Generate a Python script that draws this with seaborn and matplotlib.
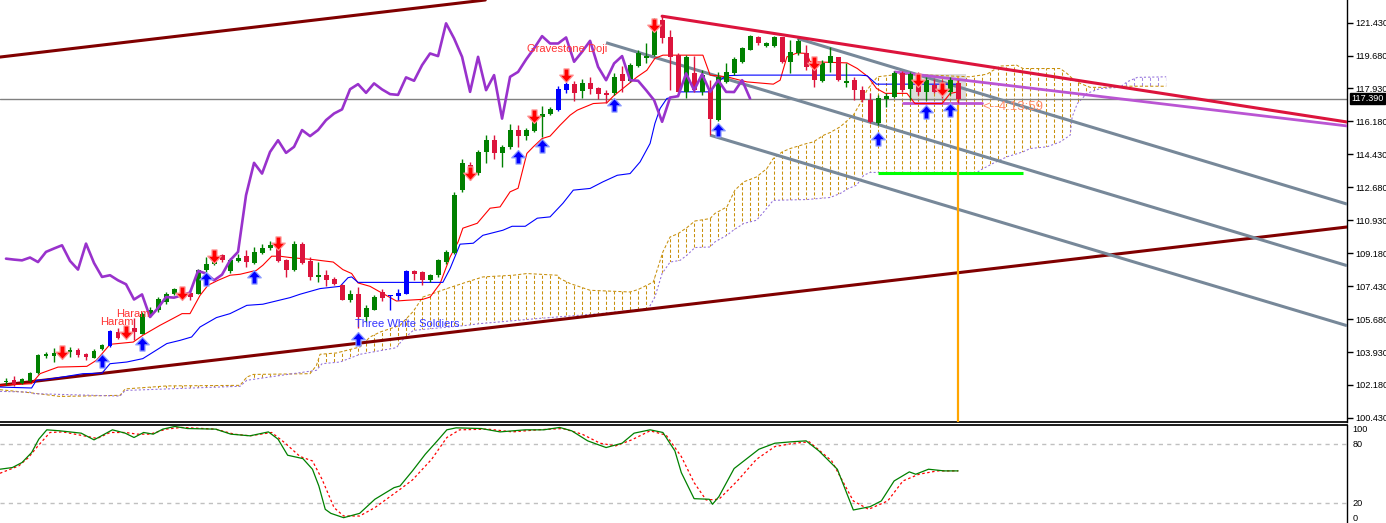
import numpy as np
import matplotlib
matplotlib.use("Agg")
import matplotlib.pyplot as plt
from matplotlib.path import Path
from matplotlib.patches import Rectangle
from matplotlib.ticker import FormatStrFormatter
from matplotlib.transforms import blended_transform_factory
import seaborn as sns

# ---------------- data ----------------
opens = [102.32, 102.43, 102.27, 102.39, 102.81, 103.72, 103.70, 103.93, 103.93, 104.02,
         103.84, 103.63, 104.09, 104.25, 104.99, 104.82, 105.19, 104.91, 105.88, 106.15,
         106.59, 107.03, 107.05, 107.05, 107.03, 108.27, 108.63, 109.11, 108.22, 108.77,
         109.01, 108.66, 109.19, 109.43, 109.51, 108.80, 108.31, 109.66, 108.77, 107.90,
         108.01, 107.81, 107.48, 106.72, 106.99, 105.79, 106.18, 107.12, 106.92, 106.91,
         107.03, 108.24, 108.17, 107.74, 108.01, 108.71, 109.19, 112.53, 113.85, 113.44,
         114.56, 115.18, 114.48, 114.80, 115.72, 115.40, 115.68, 116.39, 116.57, 116.78,
         117.84, 118.16, 117.80, 118.23, 117.93, 117.70, 117.67, 118.69, 118.34, 119.12,
         119.54, 119.70, 121.56, 120.68, 119.70, 117.75, 118.74, 117.75, 117.84, 116.25,
         118.28, 118.73, 119.35, 120.00, 120.68, 120.18, 120.18, 120.64, 119.35, 119.79,
         119.79, 119.17, 118.34, 119.29, 119.61, 118.23, 118.37, 117.84, 117.31, 116.07,
         117.35, 117.49, 118.76, 117.88, 118.64, 117.75, 118.11, 117.95, 117.75, 118.21]
highs = [102.53, 102.64, 102.53, 102.87, 103.84, 103.93, 104.13, 104.02, 104.20, 104.13,
         103.88, 104.07, 104.34, 105.12, 105.23, 105.24, 105.72, 106.05, 106.32, 106.85,
         107.12, 107.35, 107.21, 107.21, 108.36, 108.98, 109.07, 109.16, 108.91, 109.12,
         109.34, 109.51, 109.69, 109.83, 109.71, 108.89, 109.83, 109.78, 108.98, 108.71,
         108.27, 107.92, 107.57, 107.21, 107.38, 106.41, 106.94, 107.30, 106.94, 107.30,
         108.27, 108.31, 108.24, 108.10, 108.89, 109.34, 112.44, 114.16, 114.01, 114.65,
         115.45, 115.45, 114.92, 116.02, 115.98, 115.81, 116.51, 116.99, 116.95, 118.05,
         118.28, 118.34, 118.41, 118.52, 117.99, 117.84, 118.76, 119.12, 119.29, 119.97,
         120.34, 121.67, 121.78, 121.03, 119.81, 119.70, 119.65, 118.90, 118.37, 118.81,
         119.26, 119.61, 120.14, 120.76, 120.71, 120.39, 120.71, 120.68, 120.50, 120.54,
         120.23, 119.61, 119.44, 120.14, 119.61, 119.26, 118.55, 118.05, 117.67, 117.58,
         117.67, 118.85, 118.85, 118.80, 118.80, 118.55, 118.46, 118.37, 118.55, 118.37]
lows = [102.16, 102.11, 102.21, 102.34, 102.78, 103.63, 103.38, 103.59, 103.66, 103.66,
        103.53, 103.59, 104.02, 104.20, 104.64, 104.76, 104.55, 104.87, 105.79, 106.05,
        106.50, 106.98, 106.78, 106.68, 106.99, 108.18, 108.54, 108.71, 108.11, 108.70,
        108.45, 108.63, 109.12, 109.34, 108.71, 107.92, 108.24, 108.63, 107.74, 107.65,
        107.42, 107.48, 106.68, 106.59, 105.19, 105.53, 106.15, 106.64, 106.15, 106.68,
        107.03, 107.74, 107.48, 107.65, 107.92, 108.63, 109.12, 112.44, 113.06, 113.32,
        113.98, 114.21, 113.76, 114.74, 114.80, 115.18, 115.61, 115.36, 116.51, 116.74,
        117.67, 117.27, 117.45, 117.63, 117.35, 117.17, 117.58, 117.75, 118.28, 119.05,
        119.28, 119.65, 120.34, 117.84, 117.74, 117.42, 117.74, 117.58, 115.45, 116.21,
        118.20, 118.64, 119.26, 119.97, 120.23, 120.13, 120.14, 119.26, 118.73, 119.70,
        118.90, 117.99, 118.28, 118.81, 118.34, 117.99, 117.31, 117.22, 116.07, 115.98,
        116.95, 117.45, 117.74, 117.31, 117.58, 117.31, 117.67, 117.40, 117.58, 117.15]
closes = [102.37, 102.21, 102.48, 102.81, 103.75, 103.84, 103.88, 103.70, 104.02, 103.75,
          103.66, 103.98, 104.29, 105.05, 104.69, 105.14, 104.99, 105.97, 106.15, 106.77,
          106.99, 107.30, 106.84, 106.85, 108.27, 108.63, 108.89, 108.84, 108.80, 108.95,
          108.71, 109.25, 109.43, 109.60, 108.77, 108.31, 109.69, 108.66, 107.92, 108.01,
          107.74, 107.53, 106.72, 106.99, 105.79, 106.27, 106.85, 106.82, 106.94, 107.09,
          108.24, 108.10, 107.74, 108.04, 108.80, 109.25, 112.26, 113.98, 113.41, 114.56,
          115.18, 114.51, 114.83, 115.72, 115.40, 115.72, 116.25, 116.60, 116.82, 117.89,
          118.16, 117.70, 118.20, 117.88, 117.63, 117.59, 118.52, 118.34, 119.17, 119.79,
          119.65, 121.39, 120.59, 119.61, 117.75, 119.61, 117.84, 118.64, 116.33, 118.55,
          118.81, 119.47, 120.06, 120.71, 120.32, 120.32, 120.64, 119.35, 119.88, 120.46,
          119.08, 118.37, 119.26, 119.65, 118.37, 118.34, 117.84, 117.31, 116.16, 117.45,
          117.52, 118.73, 117.84, 118.69, 117.75, 118.37, 117.75, 117.74, 118.37, 117.39]
pattern_bars = [13, 15, 48, 49, 50, 69, 70]   # candles painted blue
current_price = 117.39
chikou_shift = 26

tenkan_bar = [-0.75, 3.2, 4.25, 6.5, 10.1, 11.3, 13.0, 15.9, 17.1, 19.25, 20.9, 22.0, 23.0,
              24.25, 25.25, 26.5, 28.0, 29.25, 31.3, 32.1, 33.2, 34.25, 35.5, 38.4, 40.9,
              42.1, 43.2, 44.0, 45.5, 46.75, 48.8, 50.1, 52.1, 53.0, 54.25, 55.5, 56.5, 57.1,
              58.9, 60.5, 61.75, 63.0, 64.0, 65.1, 65.9, 67.0, 68.0, 69.25, 70.5, 71.4, 73.4,
              75.1, 75.9, 77.1, 78.9, 80.1, 81.1, 82.1, 87.1, 88.0, 90.1, 91.75, 92.6, 95.9,
              96.75, 97.6, 98.9, 100.1, 100.5, 105.1, 106.4, 107.75, 108.8, 109.9, 112.6,
              113.6, 117.0, 118.0, 119.0]
tenkan_val = [102.16, 102.25, 102.78, 103.13, 103.17, 103.49, 104.34, 104.46, 104.82, 105.35,
              105.72, 105.97, 105.97, 106.94, 107.48, 107.74, 108.01, 108.06, 108.27, 108.54,
              109.02, 109.02, 108.95, 108.84, 108.71, 108.31, 108.10, 107.60, 107.42, 107.12,
              106.64, 106.68, 106.73, 106.85, 107.56, 108.98, 109.78, 110.51, 110.77, 111.57,
              111.64, 112.44, 112.63, 114.48, 114.83, 115.27, 115.40, 115.98, 116.51, 116.78,
              117.13, 117.17, 117.52, 117.93, 118.55, 118.90, 119.53, 119.70, 119.70, 118.64,
              118.55, 118.37, 118.28, 118.16, 118.37, 119.61, 119.82, 119.79, 119.35, 119.29,
              118.99, 118.55, 117.93, 117.67, 117.67, 117.13, 117.13, 117.67, 117.75]

kijun_bar = [-0.75, 3.2, 3.8, 4.9, 7.6, 9.6, 12.0, 13.0, 15.1, 17.1, 20.1, 21.75, 23.2, 24.25,
             26.3, 28.0, 30.1, 32.1, 35.5, 36.75, 39.25, 41.75, 42.75, 43.2, 44.0, 54.6, 55.5,
             56.75, 58.4, 59.6, 62.1, 63.25, 64.9, 66.4, 68.0, 69.6, 70.9, 73.0, 74.6, 76.4,
             78.0, 79.25, 80.5, 81.1, 81.75, 82.6, 83.9, 84.25, 88.0, 88.9, 90.1, 92.1, 106.75,
             107.6, 108.8, 119.0]
kijun_val = [102.07, 102.02, 102.43, 102.46, 102.64, 102.78, 102.81, 103.31, 103.40, 103.58,
             104.38, 104.55, 104.73, 105.26, 105.76, 105.97, 106.41, 106.47, 106.82, 107.00,
             107.30, 107.42, 107.88, 107.92, 107.63, 107.63, 108.36, 109.66, 109.71, 110.13,
             110.40, 110.61, 110.61, 111.04, 111.11, 111.83, 112.53, 112.62, 112.97, 113.32,
             113.41, 114.03, 115.01, 116.07, 116.87, 117.40, 117.52, 117.75, 117.75, 118.28,
             118.61, 118.64, 118.64, 118.61, 118.16, 118.16]

span_a_bar = [-0.75, 3.4, 6.75, 14.25, 14.9, 20.1, 29.25, 30.1, 30.9, 38.0, 38.8, 39.25, 41.3,
              44.25, 45.5, 46.75, 49.25, 50.9, 52.1, 55.1, 57.6, 59.6, 63.4, 65.1, 68.9, 69.25,
              70.5, 73.0, 78.0, 79.0, 80.1, 80.9, 81.5, 82.1, 83.0, 84.0, 85.1, 86.1, 88.0,
              88.6, 90.1, 91.1, 92.2, 93.8, 95.1, 95.9, 97.0, 98.0, 100.1, 100.9, 102.2, 103.0,
              104.25, 105.1, 105.9, 107.0, 107.6, 108.9, 111.75, 115.5, 120.5, 122.6, 123.4,
              124.25, 126.3, 127.1, 131.75, 132.6, 133.4, 134.25, 135.5, 138.0, 139.6, 145.0]
span_a_val = [101.93, 101.75, 101.57, 101.63, 101.97, 102.13, 102.16, 102.60, 102.74, 102.78,
              103.22, 103.81, 103.88, 104.20, 104.73, 104.99, 105.35, 106.09, 106.85, 107.30,
              107.65, 107.92, 108.01, 108.10, 108.01, 107.83, 107.57, 107.21, 107.12, 107.25,
              107.48, 107.65, 108.45, 109.25, 110.04, 110.22, 110.54, 110.89, 111.02, 111.29,
              111.64, 112.53, 112.97, 113.23, 113.68, 114.21, 114.56, 114.74, 115.01, 115.09,
              115.45, 115.59, 115.89, 116.21, 116.51, 117.31, 117.84, 118.55, 118.69, 118.64,
              118.55, 118.69, 118.90, 119.12, 119.17, 118.99, 118.99, 118.73, 118.41, 118.20,
              117.99, 117.99, 118.05, 118.05]

span_b_bar = [-0.75, 3.0, 3.4, 14.25, 14.9, 29.25, 30.1, 38.8, 39.5, 41.75, 44.25, 48.8, 49.5,
              50.9, 57.6, 59.25, 66.75, 74.25, 80.3, 81.1, 82.0, 83.0, 84.25, 85.1, 86.1, 88.0,
              88.6, 90.1, 90.9, 92.2, 93.8, 94.7, 95.9, 100.1, 103.0, 104.25, 105.3, 106.3,
              107.2, 108.0, 121.4, 121.75, 123.4, 125.1, 127.1, 128.0, 130.1, 131.75, 133.0,
              133.25, 133.9, 135.1, 136.75, 139.25, 140.1, 141.4, 145.0]
span_b_val = [101.84, 101.80, 101.72, 101.59, 101.89, 102.11, 102.43, 102.96, 103.31, 103.40,
              103.81, 104.16, 104.55, 105.08, 105.35, 105.44, 105.72, 105.97, 106.24, 106.85,
              108.10, 108.71, 108.80, 109.07, 109.48, 109.51, 109.78, 110.13, 110.40, 110.76,
              110.93, 111.37, 111.99, 112.03, 112.14, 112.35, 112.62, 112.79, 113.32, 113.47,
              113.47, 113.59, 113.96, 114.30, 114.56, 114.74, 114.83, 115.09, 115.45, 116.42,
              117.13, 117.67, 117.93, 117.99, 118.28, 118.52, 118.55]
cloud_twist_bar = 139.5   # span B rises above span A from here on

stoch_k_bar = [-0.75, 0.8, 2.0, 3.2, 4.1, 5.1, 6.7, 9.4, 11.0, 13.3, 14.9, 16.0, 17.2, 18.4,
               19.6, 21.1, 22.7, 26.2, 28.1, 30.5, 32.8, 34.0, 35.2, 37.1, 38.3, 39.1, 39.9,
               40.6, 42.2, 44.2, 46.1, 48.5, 49.25, 50.8, 52.4, 53.9, 55.1, 56.25, 59.4, 61.75,
               64.9, 67.2, 69.2, 70.7, 72.7, 75.0, 77.0, 78.5, 80.5, 82.1, 83.6, 84.4, 86.0,
               87.9, 88.3, 89.1, 91.0, 92.6, 94.1, 96.1, 98.1, 100.0, 101.6, 103.9, 105.9,
               108.0, 109.4, 111.0, 112.9, 113.7, 115.3, 117.25, 119.0]
stoch_k_val = [54.6, 56.3, 61.4, 71.5, 85.1, 94.6, 93.6, 91.2, 84.4, 94.6, 91.2, 86.8, 91.9,
               90.2, 95.3, 98.0, 95.9, 95.3, 90.2, 88.5, 92.5, 85.1, 68.8, 65.4, 54.6, 37.6,
               13.9, 9.8, 5.4, 9.8, 24.1, 35.9, 37.6, 52.9, 69.8, 83.4, 94.6, 96.6, 95.9, 92.5,
               94.6, 94.6, 97.0, 93.6, 83.4, 76.6, 81.0, 91.2, 94.6, 91.9, 73.2, 51.2, 24.7,
               24.1, 19.0, 26.8, 55.3, 65.4, 74.9, 81.0, 82.4, 83.4, 73.2, 54.6, 13.2, 16.6,
               22.4, 42.7, 51.9, 49.5, 54.6, 52.9, 52.9]
stoch_d_bar = [-0.75, 1.6, 2.8, 4.0, 5.5, 7.1, 10.2, 11.4, 13.0, 14.9, 16.4, 18.0, 20.0, 21.9,
               26.2, 28.5, 30.5, 33.2, 34.8, 36.75, 38.3, 39.5, 41.0, 42.2, 44.2, 46.1, 49.25,
               50.8, 53.2, 55.1, 56.7, 60.2, 63.3, 66.4, 69.6, 72.0, 74.25, 76.2, 78.2, 80.5,
               82.5, 84.4, 86.0, 87.5, 89.1, 91.4, 93.8, 96.1, 98.5, 100.4, 103.2, 105.9,
               107.8, 110.2, 112.1, 114.1, 116.4, 119.0]
stoch_d_val = [50.5, 58.0, 66.4, 78.3, 91.9, 92.5, 87.8, 85.8, 91.9, 91.9, 90.2, 90.2, 95.3,
               97.0, 95.3, 90.2, 88.5, 91.9, 81.7, 67.5, 63.0, 44.4, 15.6, 7.1, 7.1, 15.6, 34.2,
               43.7, 64.7, 86.8, 94.6, 95.3, 92.5, 94.6, 95.9, 90.2, 81.0, 78.3, 84.4, 93.6,
               89.2, 67.5, 41.0, 23.4, 24.1, 42.7, 64.7, 77.6, 81.0, 82.4, 63.0, 22.4, 13.9,
               22.4, 42.7, 49.5, 52.9, 52.9]
stoch_levels = [20, 80]

buy_bars = [12, 17, 25, 31, 44, 64, 67, 76, 89, 109, 115, 118]
buy_prices = [103.84, 104.73, 108.18, 108.27, 104.99, 114.65, 115.27, 117.45, 116.07,
              115.63, 117.04, 117.17]
sell_bars = [7, 15, 22, 26, 34, 58, 66, 70, 81, 101, 114, 117]
sell_prices = [103.58, 104.64, 106.68, 108.64, 109.34, 113.06, 116.07, 118.28, 120.94,
               118.90, 118.02, 117.52]

pattern_labels = ["Haram", "Haram", "Three White Soldiers", "Gravestone Doji"]
pattern_label_bars = [11.75, 13.8, 43.6, 65.1]
pattern_label_prices = [105.35, 105.79, 105.24, 119.86]

price_ticks = [100.43, 102.18, 103.93, 105.68, 107.43, 109.18, 110.93, 112.68, 114.43,
               116.18, 117.93, 119.68, 121.43]

# hand-drawn objects: (bar, price) anchors
channel_low = [(-0.75, 102.16), (166.75, 110.53)]
channel_high = [(-0.75, 119.60), (59.9, 122.63)]
resist_red = [(82.0, 121.77), (167.6, 116.15)]
resist_orchid = [(111.1, 118.81), (167.6, 115.94)]
gray_rays = [[(98.9, 120.59), (167.6, 111.79)],
             [(75.0, 120.36), (167.6, 108.52)],
             [(88.0, 115.45), (167.6, 105.33)]]
support_green = [(109.0, 113.46), (127.1, 113.46)]
level_orchid = [(112.1, 117.17), (122.0, 117.17)]
box_bars, box_prices = (113.0, 120.0), (117.26, 118.69)
vline_bar, vline_top = 119, 118.48
timer_text, timer_bar, timer_price = "<--4:13:59", 122.0, 116.95

# ---------------- drawing ----------------
sns.set_theme(style="white")
plt.rcParams["font.family"] = ["Liberation Sans", "DejaVu Sans"]

fig = plt.figure(figsize=(13.86, 5.23), dpi=100)
right = 1347 / 1386
ax = fig.add_axes([0, 1 - 421.5 / 523, right, 421.5 / 523])
ax2 = fig.add_axes([0, 0, right, 1 - 424.5 / 523])

xlim = (-0.75, 167.6)
for a in (ax, ax2):
    a.set_xlim(*xlim)
    a.set_facecolor("white")
    a.set_xticks([])
    for s in a.spines.values():
        s.set_visible(False)
    a.spines["right"].set_visible(True)
    a.spines["right"].set_color("black")
    a.spines["right"].set_linewidth(1)
ax.spines["bottom"].set_visible(True)
ax.spines["bottom"].set_color("black")
ax2.spines["top"].set_visible(True)
ax2.spines["top"].set_color("black")

ax.set_ylim(100.24, 122.63)
ax.yaxis.tick_right()
ax.set_yticks(price_ticks)
ax.yaxis.set_major_formatter(FormatStrFormatter("%.3f"))
ax.tick_params(axis="y", length=4, width=1, colors="black", labelsize=6.6, pad=2, right=True)

# ichimoku cloud: dashed vertical hatching clipped to the cloud outline
poly = ax.fill(span_a_bar + span_b_bar[::-1], span_a_val + span_b_val[::-1],
               facecolor="none", edgecolor="none", zorder=1)[0]
hatch_x = np.arange(-1, 147)
for xs, col in [(hatch_x[hatch_x < cloud_twist_bar], "#C8900C"),
                (hatch_x[hatch_x >= cloud_twist_bar], "#A58AE6")]:
    hl = ax.vlines(xs, 99, 124, colors=col, linewidth=0.75,
                   linestyles=(0, (3, 2)), zorder=1.5)
    hl.set_clip_path(poly)
ax.plot(span_a_bar, span_a_val, color="#C8900C", lw=0.75, ls=(0, (3, 2)), zorder=1.6)
ax.plot(span_b_bar, span_b_val, color="#9370DB", lw=0.75, ls=(0, (2, 2)), zorder=1.6)

# rectangle and current price line
ax.add_patch(Rectangle((box_bars[0], box_prices[0]), box_bars[1] - box_bars[0],
                       box_prices[1] - box_prices[0], facecolor="#D6D6D6",
                       edgecolor="none", alpha=0.85, zorder=1.2))
ax.axhline(current_price, color="#808080", lw=1, zorder=2)

# trend lines
ax.axline(channel_low[0], channel_low[1], color="#800000", lw=2.2, zorder=3)
ax.axline(channel_high[0], channel_high[1], color="#800000", lw=2.2, zorder=3)
for ray in gray_rays:
    ax.plot(*zip(*ray), color="#778899", lw=2.2, zorder=3, solid_capstyle="butt")
ax.plot(*zip(*resist_red), color="#DC143C", lw=2.2, zorder=3.2)
ax.plot(*zip(*resist_orchid), color="#BA55D3", lw=2.0, zorder=3.1)
ax.plot(*zip(*level_orchid), color="#BA55D3", lw=2.0, zorder=3.1)
ax.plot(*zip(*support_green), color="#00FF00", lw=2.2, zorder=3, solid_capstyle="butt")
ax.plot([vline_bar, vline_bar], [vline_top, 99], color="#FFA500", lw=1.6, zorder=3)

# tenkan / kijun / chikou
sns.lineplot(x=tenkan_bar, y=tenkan_val, ax=ax, color="#FF0000", lw=0.8,
             sort=False, estimator=None, zorder=4)
sns.lineplot(x=kijun_bar, y=kijun_val, ax=ax, color="#0000FF", lw=0.8,
             sort=False, estimator=None, zorder=4)
chikou_x = np.arange(len(closes) - chikou_shift)
sns.lineplot(x=chikou_x, y=closes[chikou_shift:], ax=ax, color="#9932CC", lw=1.9,
             sort=False, estimator=None, zorder=6)

# candles
bars = np.arange(len(closes))
o, h, l, c = map(np.array, (opens, highs, lows, closes))
cols = np.where(c >= o, "#008000", "#DC143C").astype(object)
cols[pattern_bars] = "#0000FF"
ax.vlines(bars, l, h, colors=list(cols), lw=1, zorder=5)
ax.bar(bars, np.maximum(np.abs(c - o), 0.04), bottom=np.minimum(o, c), width=0.62,
       color=list(cols), linewidth=0, zorder=5.1)

# signal arrows
up = Path([(0, 0), (6, -6.5), (2.2, -6.5), (2.2, -12), (-2.2, -12), (-2.2, -6.5), (-6, -6.5),
           (0, 0)], [1, 2, 2, 2, 2, 2, 2, 79])
down = Path([(0, 0), (6, 6.5), (2.2, 6.5), (2.2, 12), (-2.2, 12), (-2.2, 6.5), (-6, 6.5),
             (0, 0)], [1, 2, 2, 2, 2, 2, 2, 79])
ax.plot(buy_bars, buy_prices, ls="none", marker=up, ms=19.5, mfc="#0000FF",
        mec="#8C9CFF", mew=0.9, zorder=7)
ax.plot(sell_bars, sell_prices, ls="none", marker=down, ms=19.5, mfc="#FF0000",
        mec="#FF9090", mew=0.9, zorder=7)

# pattern names
for txt, b, p in zip(pattern_labels, pattern_label_bars, pattern_label_prices):
    col = "#3333FF" if "Soldiers" in txt else "#FF3333"
    ax.text(b, p, txt, color=col, fontsize=8, ha="left", va="baseline", zorder=8)
ax.text(timer_bar, timer_price, timer_text, color="#FF8C69", fontsize=9.5,
        ha="left", va="center", zorder=8)

# current price tag
tr = blended_transform_factory(ax.transAxes, ax.transData)
ax.text(1.003, current_price, f"{current_price:.3f}", transform=tr, color="white",
        fontsize=6.6, ha="left", va="center", clip_on=False, zorder=10,
        bbox=dict(facecolor="black", edgecolor="black", pad=0.8))

# stochastic panel
ax2.set_ylim(0, 100)
ax2.set_yticks([])
for lv in stoch_levels:
    ax2.axhline(lv, color="#C0C0C0", lw=1, ls=(0, (3, 3)), zorder=1)
sns.lineplot(x=stoch_k_bar, y=stoch_k_val, ax=ax2, color="#008000", lw=0.9,
             sort=False, estimator=None, zorder=3)
sns.lineplot(x=stoch_d_bar, y=stoch_d_val, ax=ax2, color="#FF0000", lw=0.9,
             ls=(0, (2, 2)), sort=False, estimator=None, zorder=2)
tr2 = blended_transform_factory(ax2.transAxes, ax2.transData)
for lab, v, va in [("100", 100, "top"), ("80", 80, "center"), ("20", 20, "center"),
                   ("0", 0, "bottom")]:
    ax2.text(1.004, v, lab, transform=tr2, fontsize=6.6, ha="left", va=va,
             color="black", clip_on=False)

fig.savefig("out.png", dpi=100)
